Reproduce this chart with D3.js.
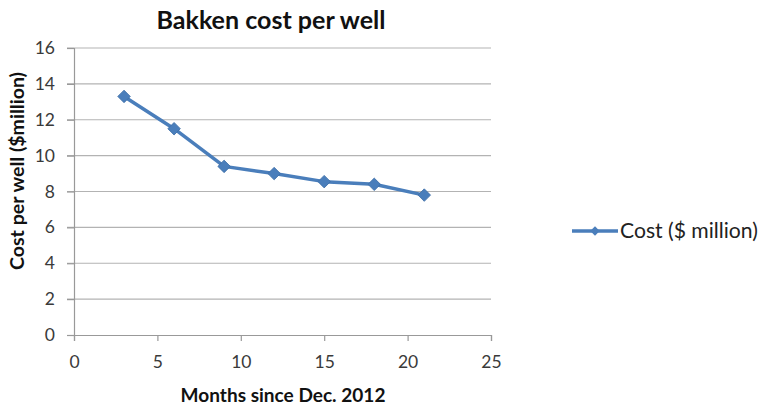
<!DOCTYPE html>
<html>
<head>
<meta charset="utf-8">
<script src="https://cdn.jsdelivr.net/npm/d3@7"></script>
<style>
  html, body { margin: 0; padding: 0; background: #fff; }
  svg { display: block; font-family: Lato, "Open Sans", sans-serif; }
</style>
</head>
<body>
<svg id="chart" width="759" height="410"></svg>
<script>
// Bakken well cost by months since December 2012
const months = [3, 6, 9, 12, 15, 18, 21];
const costs = [13.3, 11.5, 9.4, 9.0, 8.55, 8.4, 7.8];
const xTicks = [0, 5, 10, 15, 20, 25];
const yTicks = [0, 2, 4, 6, 8, 10, 12, 14, 16];
const seriesName = "Cost ($ million)";

const svg = d3.select("#chart");
const plot = { left: 74, right: 491, top: 48, bottom: 335 };
const blue = "#4A7EBB";
const labelColor = "#3a3a3a";

// scale a text element's font so its width comes out at the wanted size
function fitWidth(sel, width) {
  const node = sel.node();
  const fs = parseFloat(sel.attr("font-size"));
  const w = node.getComputedTextLength();
  if (w > 0) sel.attr("font-size", (fs * width / w).toFixed(2));
  return sel;
}

const x = d3.scaleLinear().domain([0, 25]).range([plot.left, plot.right]);
const y = d3.scaleLinear().domain([0, 16]).range([plot.bottom, plot.top]);

// horizontal gridlines
svg.append("g")
  .selectAll("line")
  .data(yTicks.filter(d => d > 0))
  .join("line")
  .attr("x1", plot.left - 7).attr("x2", plot.right)
  .attr("y1", d => y(d)).attr("y2", d => y(d))
  .attr("stroke", "#b3b3b3").attr("stroke-width", 1.2);

// y axis
const yAxis = svg.append("g")
  .attr("transform", `translate(${plot.left},0)`)
  .call(d3.axisLeft(y).tickValues(yTicks).tickSize(7).tickPadding(12));
yAxis.select(".domain").attr("stroke", "#999").attr("stroke-width", 1.2);
yAxis.selectAll(".tick line").attr("stroke", "#999").attr("stroke-width", 1.2);
yAxis.selectAll(".tick text")
  .attr("font-size", 17.5).attr("fill", labelColor)
  .attr("font-family", "Lato, 'Open Sans', sans-serif");

// x axis
const xAxis = svg.append("g")
  .attr("transform", `translate(0,${plot.bottom})`)
  .call(d3.axisBottom(x).tickValues(xTicks).tickSize(6).tickPadding(15));
xAxis.select(".domain").attr("stroke", "#999").attr("stroke-width", 1.2);
xAxis.selectAll(".tick line").attr("stroke", "#999").attr("stroke-width", 1.2);
xAxis.selectAll(".tick text")
  .attr("font-size", 17.5).attr("fill", labelColor)
  .attr("font-family", "Lato, 'Open Sans', sans-serif");

// series line
const line = d3.line().x((d, i) => x(months[i])).y(d => y(d));
svg.append("path")
  .datum(costs)
  .attr("d", line)
  .attr("fill", "none")
  .attr("stroke", blue)
  .attr("stroke-width", 3.5)
  .attr("stroke-linejoin", "round");

// diamond markers
const diamond = d3.symbol().type(d3.symbolSquare).size(78);
svg.append("g")
  .selectAll("path")
  .data(costs)
  .join("path")
  .attr("d", diamond)
  .attr("transform", (d, i) => `translate(${x(months[i])},${y(d)}) rotate(45)`)
  .attr("fill", blue)
  .attr("stroke", "#3f6fa8")
  .attr("stroke-width", 0.8);

// title
fitWidth(svg.append("text")
  .attr("x", 271).attr("y", 29)
  .attr("text-anchor", "middle")
  .attr("font-size", 24).attr("font-weight", "bold")
  .attr("fill", "#111")
  .text("Bakken cost per well"), 229);

// axis titles
fitWidth(svg.append("text")
  .attr("x", 283).attr("y", 402)
  .attr("text-anchor", "middle")
  .attr("font-size", 17).attr("font-weight", "bold")
  .attr("fill", "#111")
  .text("Months since Dec. 2012"), 205);

fitWidth(svg.append("text")
  .attr("transform", "translate(24,171) rotate(-90)")
  .attr("text-anchor", "middle")
  .attr("font-size", 17).attr("font-weight", "bold")
  .attr("fill", "#111")
  .text("Cost per well ($million)"), 198);

// legend
const legend = svg.append("g").attr("transform", "translate(572,231)");
legend.append("line")
  .attr("x1", 0).attr("x2", 46).attr("y1", 0).attr("y2", 0)
  .attr("stroke", blue).attr("stroke-width", 3.5);
legend.append("path")
  .attr("d", d3.symbol().type(d3.symbolSquare).size(44))
  .attr("transform", "translate(23,0) rotate(45)")
  .attr("fill", blue);
fitWidth(legend.append("text")
  .attr("x", 48).attr("y", 6.5)
  .attr("font-size", 19).attr("fill", "#222")
  .text(seriesName), 138);
</script>
</body>
</html>
